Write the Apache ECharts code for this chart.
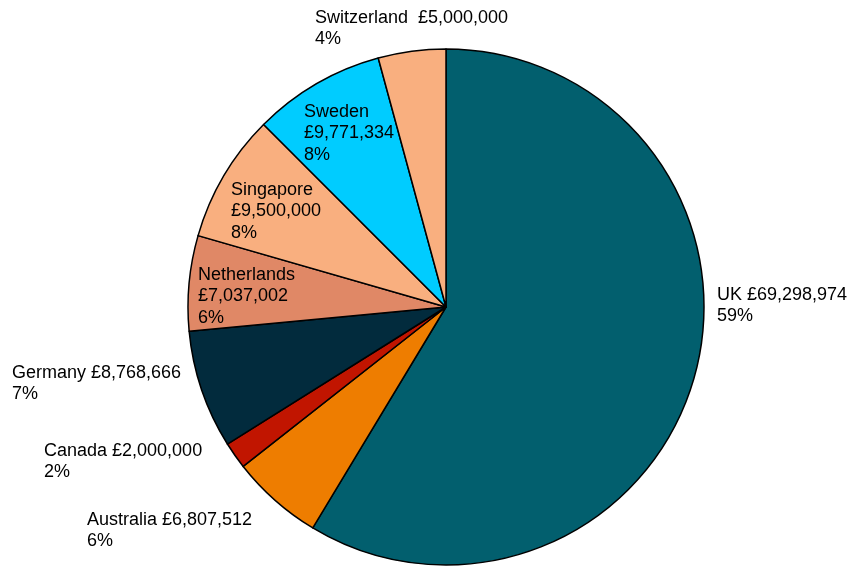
<!DOCTYPE html>
<html>
<head>
<meta charset="utf-8">
<script src="https://cdn.jsdelivr.net/npm/echarts@6/dist/echarts.min.js"></script>
<style>
  html, body { margin: 0; padding: 0; background: #fff; }
  #chart { width: 855px; height: 566px; }
</style>
</head>
<body>
<div id="chart"></div>
<script>
// data
var countries = ['UK', 'Australia', 'Canada', 'Germany', 'Netherlands', 'Singapore', 'Sweden', 'Switzerland'];
var amounts = [69298974, 6807512, 2000000, 8768666, 7037002, 9500000, 9771334, 5000000];
var sliceColors = ['#025F6E', '#EE7D00', '#C11500', '#022B3D', '#E08866', '#F9AF7F', '#00CCFF', '#F9AF7F'];

// where each label sits (top-left corner of its text block)
var labelSpots = {
  'UK': [717, 284],
  'Australia': [87, 509],
  'Canada': [44, 440],
  'Germany': [12, 362],
  'Netherlands': [198, 264],
  'Singapore': [231, 179],
  'Sweden': [304, 101],
  'Switzerland': [315, 7]
};
// labels split over three lines (inside the slice)
var stacked = ['Netherlands', 'Singapore', 'Sweden'];

function money(v) {
  return '£' + v.toString().replace(/\B(?=(\d{3})+(?!\d))/g, ',');
}

var pieData = countries.map(function (c, i) {
  return { name: c, value: amounts[i], itemStyle: { color: sliceColors[i] } };
});

var myChart = echarts.init(document.getElementById('chart'));

var option = {
  backgroundColor: '#fff',
  animation: false,
  series: [{
    type: 'pie',
    center: [446, 307],
    radius: 258,
    startAngle: 90,
    clockwise: true,
    data: pieData,
    itemStyle: { borderColor: '#000', borderWidth: 1.5 },
    label: {
      show: true,
      position: 'outside',
      alignTo: 'none',
      overflow: 'none',
      color: '#000',
      fontFamily: 'Liberation Sans, Arial, sans-serif',
      fontSize: 18,
      lineHeight: 21.5,
      formatter: function (p) {
        var pct = Math.round(p.percent) + '%';
        if (stacked.indexOf(p.name) >= 0) {
          return p.name + '\n' + money(p.value) + '\n' + pct;
        }
        var gap = p.name === 'Switzerland' ? '  ' : ' ';
        return p.name + gap + money(p.value) + '\n' + pct;
      }
    },
    labelLine: { show: false },
    labelLayout: function (params) {
      var name = countries[params.dataIndex];
      var s = labelSpots[name];
      return { x: s[0], y: s[1], align: 'left', verticalAlign: 'top' };
    },
    emphasis: { disabled: true }
  }]
};

myChart.setOption(option);
</script>
</body>
</html>
